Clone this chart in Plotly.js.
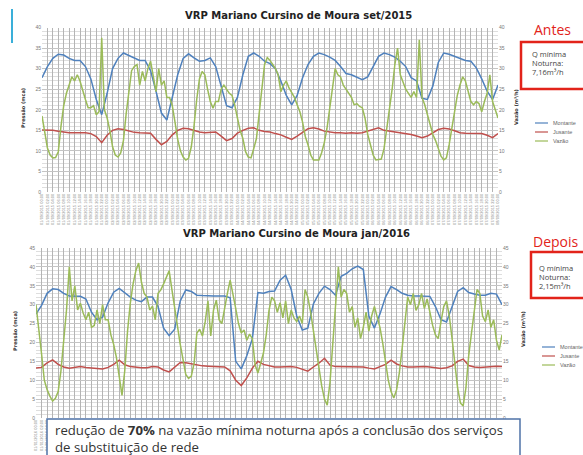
<!DOCTYPE html>
<html><head><meta charset="utf-8">
<script src="https://cdn.plot.ly/plotly-3.0.1.min.js"></script>
<style>html,body{margin:0;padding:0;background:#fff;overflow:hidden}#chart{width:583px;height:455px;}</style>
</head><body><div id="chart"></div>
<script>
// ---------- DATA ----------
const seriesNames = ["Montante", "Jusante", "Vazão"];
const topTitle = "VRP Mariano Cursino de Moura set/2015";
const botTitle = "VRP Mariano Cursino de Moura jan/2016";

// top chart (set/2015), pressure every 2 h, flow every 1 h, 7 days
const topMontante = [27.8,30.5,32.5,33.5,33.3,32.5,32,32,30.5,27.5,22.5,18.8,
24,30,32.5,33.8,33.2,32.5,32,32,29.5,24.5,19.2,17.5,
23,28.5,32.5,33.6,32.6,31.8,32,32.6,30.5,26,21,20.5,
23,28.5,33,33.8,33,31.8,31.2,30,27,23.5,21.2,23.5,
27.8,31,33,33.8,33.4,32.8,32,30.5,28.8,28.5,27.8,27.3,
28,30.5,33,33.8,33.4,32.8,31.8,30.5,27.8,27,22.8,22.5,
25.8,31.5,33.8,33.5,33,32.5,32,31.8,30.2,27.5,24.5,22.5,26];
const topJusante = [15.1,15.1,15,14.8,14.6,14.4,14.4,14.4,14.4,14.2,13.5,12,
13.8,15,15.4,15.2,14.9,14.5,14.4,14.4,14.3,12.8,11.5,12.3,
13.9,15,15.5,15.4,15,14.6,14.4,14.5,14.6,13.6,12.5,13,
14.3,15,15.5,15.6,15,14.7,14.6,14.2,13.9,13.3,12.8,13.6,
14.6,15.4,15.6,15.3,14.8,14.6,14.4,14.4,14.3,14.4,14.3,14.4,
14.8,15.3,15.6,15,14.8,14.6,14.4,14.2,14,13.6,13.2,13.6,
14.4,15.2,15.5,15.3,14.9,14.4,14.3,14.3,14.3,14.2,13.8,13.2,14.2];
const topVazao = [
18.5,14,10.7,9,8.3,8.4,9.8,16,21,24,26,28,27,28.5,27,24.5,22.5,20.5,20.5,21,18.8,19.5,37.5,20,
18,15,11,9,8.5,9.5,12.5,19,25,29.5,30.5,31,26,29.3,27,30,31.8,28.5,24.4,30,26,27,23,23,
21,17,12.8,10,8.5,7.8,8.2,11,16,22.5,27.5,29.3,28.5,25,22,20.4,22,22,25,26,25,24,23.5,21.2,
18,15,13,9.8,8.5,8.3,10.5,13,19,25,31,32.7,32,31,30,28.5,24.4,26,27,25.3,24,23,21.2,19.5,
17,13.5,11.5,9,7.8,7.8,7.8,9.5,12,15.5,20,25.5,30,28.5,28,26,25,24,23,21.2,21.5,20.8,20.5,18,
14,11.5,9,7.8,7.9,8,10.5,15,20.5,25,31,35,28.5,26.5,25,24,23,24.4,23,37,23,21.2,19,16.5,
14,12.5,10.5,8.7,7.8,8.3,11.5,15.5,19.5,23.5,26,28,27,24.4,22,21.2,22,21.5,19.5,22,24,28.5,22,20,
18];

// bottom chart (jan/2016)
const botMontante = [27.5,29.8,33,34.2,34,33,32.3,32.2,32.2,31.5,28,26,
26.7,30.5,33.3,34.3,33.2,32,31.2,30.8,32,32,29.5,23.8,
21.8,23.5,31,33.9,33.5,32.5,32.4,32.3,32.3,32.3,32.3,31.8,
15,13,16.5,21,33.2,33,33.5,33.6,36.5,37.8,34,27,
23.3,23.8,30.2,33,34.9,34,32.5,37.5,38.3,39.5,40.2,39.3,
27,23.8,27.5,32,34.8,34,33,32.5,32.3,32.3,32.3,32.2,
29.5,26,25.4,29.5,33.5,34.5,33.2,32.8,32.5,32.5,33,32.8,30];
const botJusante = [13.2,13.4,14.6,15.4,14.2,13.5,13.2,13.4,13.6,13.4,13.2,13.2,
13,13.4,14.2,15.3,14.1,13.6,13.4,13.3,13.3,13.6,13.5,12.7,
12.2,13.4,14.7,14.6,14.3,13.9,13.8,13.7,13.6,13.6,13.5,12.5,
10,8.6,10.6,13.2,15,14.2,13.8,13.5,13.5,13.6,13.6,13.4,
13,12.4,13.5,14.5,15.8,14,13.6,13.6,13.6,13.6,13.5,13.5,
13.2,13,13.6,14.2,15.3,14.3,13.8,13.5,13.5,13.6,13.6,13.5,
13.3,13.1,13.3,13.8,15,15.6,13.9,13.5,13.4,13.5,13.7,13.7,13.6];
const botVazao = [
30,24,17,10,7.5,5.8,4.5,5.2,7,12.5,21,28.6,40,31,35,28.6,30.4,27.8,26,28,24,24.5,28.6,25,
30,26,26,22,19.5,16,11,6,12.5,23,30.4,35.5,39,41,36,33,32,28.6,29.6,26,33,33.9,35.5,37.5,
39,34,29,25,19.5,15.5,11.5,10.5,11.1,14.5,22.5,23.5,21.7,25.5,31,21.7,28.6,31.2,26,25,29.5,33,36.5,33,
29,25,22.5,23.3,20.6,22.2,21,14,11.9,14.5,17.2,22,28.5,32,31,28,30.5,26.5,31,25,28.6,26.5,25.5,27,
25,34,32,28,23,18.5,13,8.5,5,3.4,9.5,20,30,40,32,34,33,28,29.5,24,26.5,21,24,28,
23,27,29.5,27,24,19.8,14.5,10,7,5.3,7.5,12,18.5,25,32,30,33,28.5,30,33,29,31.5,27.5,24.5,
22,21,25.5,29.5,31,27,21,14,8,4,3.2,8,16.5,22.5,28.6,34,33,27,25.5,28.6,24,26,20.6,18,
22];

// time steps (hours from start of each week)
const hours2 = []; for (let h = 0; h <= 168; h += 2) hours2.push(h);
const hours1 = []; for (let h = 0; h <= 168; h += 1) hours1.push(h);

// tick labels (date + hour, every 2 h)
function makeLabels(d0, mm, yyyy) {
  const out = [];
  for (const h of hours2) {
    const d = d0 + Math.floor(h / 24), hh = h % 24;
    out.push(String(d).padStart(2,'0') + '/' + mm + '/' + yyyy + ' ' + String(hh).padStart(2,'0') + ':00');
  }
  return out;
}
const topTickLabels = makeLabels(1, '09', '2015');
const botTickLabels = makeLabels(1, '01', '2016');

const colors = {Montante:'#4f81bd', Jusante:'#c0504d', 'Vazão':'#9bbb59'};

// ---------- LAYOUT HELPERS ----------
const W = 583, H = 455;
const px = x => x / W, py = y => 1 - y / H;

const traces = [
  {x: hours2, y: topMontante, name: seriesNames[0], xaxis:'x', yaxis:'y', line:{color:colors.Montante, width:1.5}},
  {x: hours2, y: topJusante, name: seriesNames[1], xaxis:'x', yaxis:'y', line:{color:colors.Jusante, width:1.5}},
  {x: hours1, y: topVazao, name: seriesNames[2], xaxis:'x', yaxis:'y3', line:{color:colors['Vazão'], width:1.5}},
  {x: hours2, y: botMontante, name: seriesNames[0], xaxis:'x2', yaxis:'y2', line:{color:colors.Montante, width:1.5}},
  {x: hours2, y: botJusante, name: seriesNames[1], xaxis:'x2', yaxis:'y2', line:{color:colors.Jusante, width:1.5}},
  {x: hours1, y: botVazao, name: seriesNames[2], xaxis:'x2', yaxis:'y4', line:{color:colors['Vazão'], width:1.5}}
].map(t => Object.assign({type:'scatter', mode:'lines', showlegend:false, hoverinfo:'skip'}, t));

const tickF = {family:'Liberation Sans, Arial', size:5, color:'#777'};
const xFont = {family:'Liberation Sans, Arial', size:4, color:'#888'};
function xAx(dom, anchor, labels) {
  return {domain: dom, anchor: anchor, range:[0,168], tickmode:'array', tickvals: hours2, ticktext: labels,
    tickangle:-90, tickfont: xFont, showgrid:true, gridcolor:'#b4b4b4', gridwidth:1, zeroline:false,
    showline:false, ticks:'', fixedrange:true};
}
function yAx(dom, anchor, maxv, extra) {
  return Object.assign({domain: dom, anchor: anchor, range:[0,maxv], dtick:5, tick0:0, tickfont: tickF,
    showgrid:true, gridcolor:'#c4c4c4', gridwidth:1, zeroline:false, showline:false, ticks:'',
    minor:{dtick:1, showgrid:true, gridcolor:'#dedede', gridwidth:1}}, extra || {});
}

const layout = {
  width: W, height: H, margin:{l:0, r:0, t:0, b:0}, paper_bgcolor:'#fff', plot_bgcolor:'#fff',
  showlegend:false,
  xaxis: xAx([px(42), px(498)], 'y', topTickLabels),
  yaxis: yAx([py(192), py(27.5)], 'x', 40),
  yaxis3: {overlaying:'y', side:'right', anchor:'x', range:[0,40], dtick:5, tick0:0, tickfont:tickF,
    showgrid:false, zeroline:false, showline:false, ticks:''},
  xaxis2: xAx([px(36), px(502)], 'y2', botTickLabels),
  yaxis2: yAx([py(418), py(248)], 'x2', 45),
  yaxis4: {overlaying:'y2', side:'right', anchor:'x2', range:[0,45], dtick:5, tick0:0, tickfont:tickF,
    showgrid:false, zeroline:false, showline:false, ticks:''},
  shapes: [],
  annotations: []
};

const P = (x,y) => ({xref:'paper', yref:'paper', x:px(x), y:py(y)});
const ann = (x, y, text, font, extra) => layout.annotations.push(Object.assign(P(x,y),
  {text:text, showarrow:false, font:font, xanchor:'center', yanchor:'middle'}, extra||{}));

// titles
const titleFont = {family:'DejaVu Sans', size:10, color:'#222', weight:'bold'};
ann(299, 16, '<b>'+topTitle+'</b>', titleFont);
ann(296, 234, '<b>'+botTitle+'</b>', titleFont);

// axis titles
const axTF = {family:'DejaVu Sans', size:5, color:'#333'};
ann(23, 108, '<b>Pressão (mca)</b>', axTF, {textangle:-90});
ann(516, 107, '<b>Vazão (m³/h)</b>', axTF, {textangle:-90});
ann(15, 331, '<b>Pressão (mca)</b>', axTF, {textangle:-90});
ann(523, 329, '<b>Vazão (m³/h)</b>', axTF, {textangle:-90});

// legends (manual)
const legF = {family:'Liberation Sans, Arial', size:5.5, color:'#666'};
function legend(x0, ys) {
  seriesNames.forEach((n, i) => {
    layout.shapes.push({type:'line', xref:'paper', yref:'paper', x0:px(x0), x1:px(x0+13), y0:py(ys[i]), y1:py(ys[i]),
      line:{color:colors[n], width:1.2}});
    ann(x0+16, ys[i], n, legF, {xanchor:'left'});
  });
}
legend(535, [123, 132, 141]);
legend(542, [347, 356, 365]);

// Antes / Depois boxes
const redF = {family:'Open Sans', size:14, color:'#e2231a'};
ann(552, 30, 'Antes', redF);
ann(556, 241, 'Depois', redF);
layout.shapes.push({type:'rect', xref:'paper', yref:'paper', x0:px(521), x1:px(585), y0:py(89), y1:py(42),
  line:{color:'#e2231a', width:2.5}, fillcolor:'rgba(0,0,0,0)'});
layout.shapes.push({type:'rect', xref:'paper', yref:'paper', x0:px(531), x1:px(585), y0:py(298), y1:py(252),
  line:{color:'#e2231a', width:2.5}, fillcolor:'rgba(0,0,0,0)'});
const boxF = {family:'Open Sans', size:7.5, color:'#444'};
ann(530, 54, 'Q mínima', boxF, {xanchor:'left'});
ann(530, 63, 'Noturna:', boxF, {xanchor:'left'});
ann(530, 72, '7,16m³/h', boxF, {xanchor:'left'});
ann(537, 268, 'Q mínima', boxF, {xanchor:'left'});
ann(537, 277, 'Noturna:', boxF, {xanchor:'left'});
ann(537, 286, '2,15m³/h', boxF, {xanchor:'left'});

// cyan accent line
layout.shapes.push({type:'line', xref:'paper', yref:'paper', x0:px(12), x1:px(12), y0:py(9), y1:py(43),
  line:{color:'#3aafd9', width:2}});

// bottom note box
layout.shapes.push({type:'rect', xref:'paper', yref:'paper', x0:px(47), x1:px(520), y0:py(462), y1:py(419),
  line:{color:'#4f73a8', width:1.5}, fillcolor:'#ffffff', layer:'above'});
const noteF = {family:'Open Sans', size:13.2, color:'#333'};
ann(53, 430, 'redução de <b>70%</b> na vazão mínima noturna após a conclusão dos serviços', noteF, {xanchor:'left'});
ann(53, 447, 'de substituição de rede', noteF, {xanchor:'left'});

Plotly.newPlot('chart', traces, layout, {staticPlot:true, displayModeBar:false});
</script>
</body></html>
